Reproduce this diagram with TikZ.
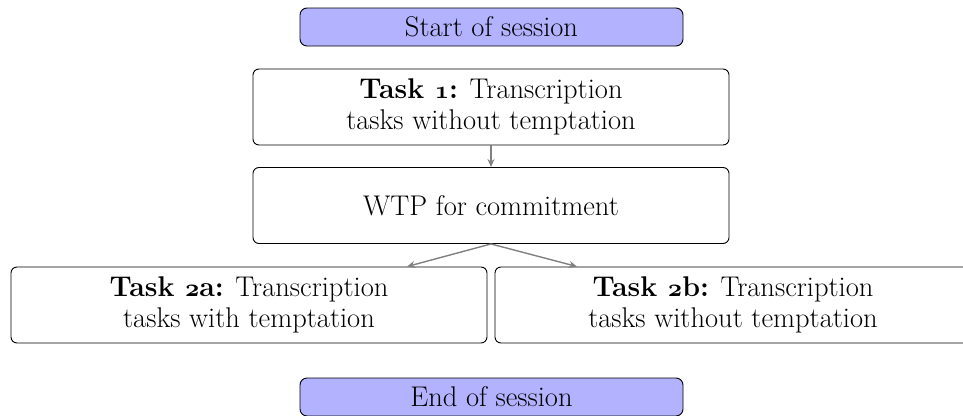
\documentclass[tikz,border=0pt]{standalone}
\usetikzlibrary{arrows.meta}
\newcommand\osnum[1]{{\usefont{OML}{cmm}{b}{it}#1}}
\begin{document}
\begin{tikzpicture}[x=1pt,y=1pt,
  every node/.style={font=\fontsize{28.5}{31}\selectfont},
  taskbox/.style={draw=black, line width=0.9pt, rounded corners=6pt, minimum width=476pt, minimum height=76pt, align=center, inner sep=0pt},
  sessbox/.style={draw=black, line width=0.9pt, fill=blue!30, rounded corners=7pt, minimum width=383pt, minimum height=38pt, inner sep=0pt},
  flow/.style={draw=gray, line width=1.4pt, -{Stealth[length=8pt,width=7pt]}}]
\useasboundingbox (0,0) rectangle (963,-415);
\node[sessbox] (start) at (491.5,-27) {Start of session};
\node[taskbox] (t1) at (491,-107) {\textbf{Task \osnum{1}:} Transcription\\tasks without temptation};
\node[taskbox] (wtp) at (491,-205.5) {WTP for commitment};
\node[taskbox] (t2a) at (249,-305) {\textbf{Task \osnum{2}a:} Transcription\\tasks with temptation};
\node[taskbox] (t2b) at (733,-305) {\textbf{Task \osnum{2}b:} Transcription\\tasks without temptation};
\node[sessbox] (end) at (491.5,-397) {End of session};
\draw[flow] (t1.south) -- (wtp.north);
\draw[flow] (wtp.south) -- ([xshift=158pt]t2a.north);
\draw[flow] (wtp.south) -- ([xshift=-156pt]t2b.north);
\end{tikzpicture}
\end{document}
